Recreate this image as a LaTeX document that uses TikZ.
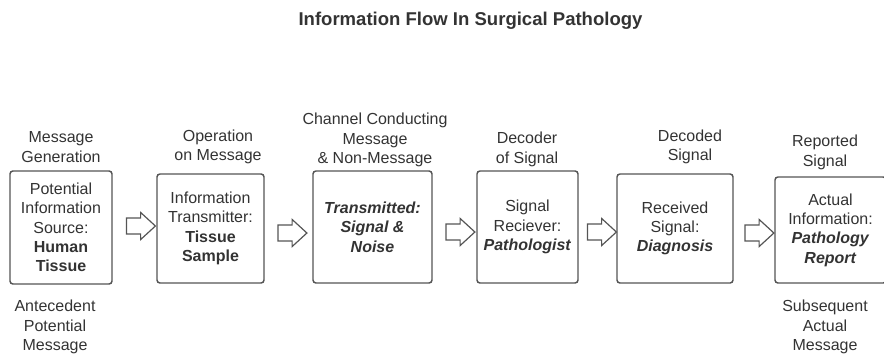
\documentclass[tikz,border=0pt]{standalone}
\usepackage{fontspec}
\setmainfont{Liberation Sans}
\usetikzlibrary{shapes.arrows}

\definecolor{linegray}{RGB}{85,85,85}
\definecolor{textgray}{RGB}{51,51,51}

\tikzset{every picture/.style={line width=0.75pt}}
\tikzset{
  boxnode/.style={draw=linegray, line width=1.1pt, rounded corners=2.2pt, align=center, text=textgray, inner sep=0pt, font=\fontsize{12}{14.5}\selectfont},
  labelnode/.style={align=center, text=textgray, inner sep=0pt, font=\fontsize{12}{14.5}\selectfont},
  flowarrow/.style={single arrow, draw=linegray, line width=0.9pt, inner xsep=0pt, inner ysep=5.6pt, text height=0pt, text depth=0pt, minimum height=21.75pt, single arrow head extend=4.1pt, single arrow tip angle=85},
  titlenode/.style={text=textgray, inner sep=0pt, font=\fontsize{13.9}{16}\selectfont\bfseries}
}

\begin{document}
\begin{tikzpicture}[x=0.75pt,y=0.75pt,yscale=-1,xscale=1]
	\useasboundingbox (0,0) rectangle (884,355);

	% Title
	\node [titlenode, anchor=base] (title) at (470.5,25) {Information Flow In Surgical Pathology};

	%Shape: Rectangle [boxes]
	\node [boxnode, minimum width=76.5pt, minimum height=84.75pt] (source) at (61,227.5) {Potential\\Information\\Source:\\\textbf{Human}\\\textbf{Tissue}};
	\node [boxnode, minimum width=80.25pt, minimum height=81.75pt] (transmitter) at (210.5,228.5) {Information\\Transmitter:\\\textbf{Tissue}\\\textbf{Sample}};
	\node [boxnode, minimum width=89.25pt, minimum height=84pt] (channel) at (372.5,227) {\textbf{\textit{Transmitted:}}\\\textbf{\textit{Signal \&}}\\\textbf{\textit{Noise}}};
	\node [boxnode, minimum width=75.75pt, minimum height=84pt] (receiver) at (527.5,227) {Signal\\Reciever:\\\textbf{\textit{Pathologist}}};
	\node [boxnode, minimum width=87pt, minimum height=81.75pt] (diagnosis) at (675,228.5) {Received\\Signal:\\\textbf{\textit{Diagnosis}}};
	\node [boxnode, minimum width=83.25pt, minimum height=79.5pt] (report) at (830.5,230) {Actual\\Information:\\\textbf{\textit{Pathology}}\\\textbf{\textit{Report}}};

	%Shape: Right Arrow [block arrows]
	\node [flowarrow] (arrowA) at (136.5,226) {};
	\node [flowarrow] (arrowB) at (288,233) {};
	\node [flowarrow] (arrowC) at (456,232) {};
	\node [flowarrow] (arrowD) at (597.5,232) {};
	\node [flowarrow] (arrowE) at (755,233) {};

	% Text Node
	\node [labelnode] (genlabel) at (61,147) {Message\\Generation};
	% Text Node
	\node [labelnode] (oplabel) at (218,147) {Operation\\on Message};
	% Text Node
	\node [labelnode] (chanlabel) at (375,140) {Channel Conducting\\Message\\\& Non-Message};
	% Text Node
	\node [labelnode] (declabel) at (527,149.5) {Decoder\\of Signal};
	% Text Node
	\node [labelnode] (decodedlabel) at (690,147) {Decoded\\Signal};
	% Text Node
	\node [labelnode] (replabel) at (825,152.5) {Reported\\Signal};
	% Text Node
	\node [labelnode] (antlabel) at (55,327) {Antecedent\\Potential\\Message};
	% Text Node
	\node [labelnode] (sublabel) at (825,327) {Subsequent\\Actual\\Message};

\end{tikzpicture}
\end{document}
